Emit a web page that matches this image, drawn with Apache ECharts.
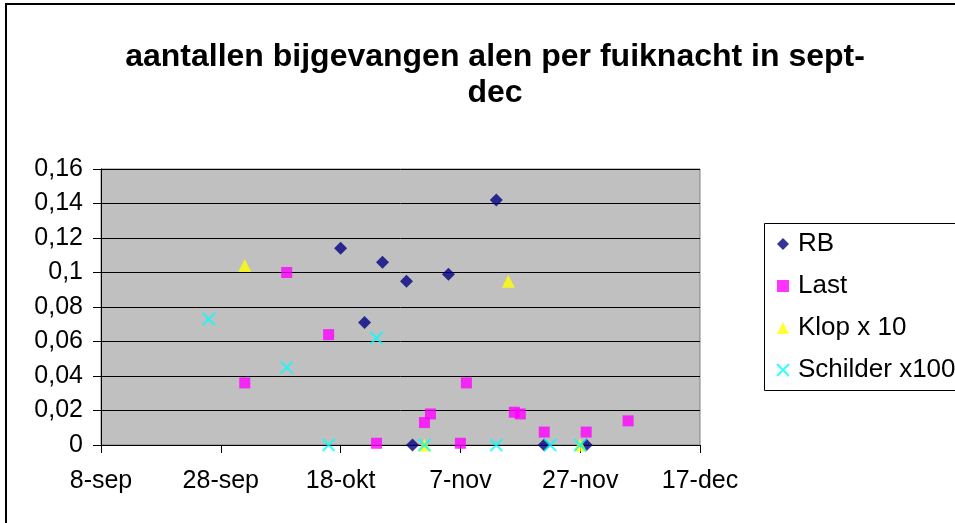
<!DOCTYPE html>
<html>
<head>
<meta charset="utf-8">
<script src="https://cdn.jsdelivr.net/npm/echarts@6/dist/echarts.min.js"></script>
<style>html,body{margin:0;padding:0;background:#fff;}#c{width:955px;height:523px;}</style>
</head>
<body>
<div id="c"></div>
<script>
// ---- data (dates as MM-DD, values per series) ----
const startDate = '09-08';
const xTickLabels = ['8-sep', '28-sep', '18-okt', '7-nov', '27-nov', '17-dec'];
const yTickLabels = ['0', '0,02', '0,04', '0,06', '0,08', '0,1', '0,12', '0,14', '0,16'];

const rbDates = ['10-18', '10-22', '10-25', '10-29', '10-30', '11-05', '11-13', '11-21', '11-28'];
const rbValues = [0.114, 0.071, 0.106, 0.095, 0, 0.099, 0.142, 0, 0];

const lastDates = ['10-02', '10-09', '10-16', '10-24', '11-01', '11-02', '11-07', '11-08', '11-16', '11-17', '11-21', '11-28', '12-05'];
const lastValues = [0.036, 0.1, 0.064, 0.001, 0.013, 0.018, 0.001, 0.036, 0.019, 0.018, 0.0075, 0.0075, 0.014];

const klopDates = ['10-02', '11-01', '11-15', '11-27'];
const klopValues = [0.104, 0, 0.095, 0];

const schilderDates = ['09-26', '10-09', '10-16', '10-24', '11-01', '11-13', '11-22', '11-27'];
const schilderValues = [0.073, 0.045, 0, 0.062, 0, 0, 0, 0];

// ---- helpers ----
function dayNum(md) {
  const [m, d] = md.split('-').map(Number);
  const [m0, d0] = startDate.split('-').map(Number);
  return Math.round((Date.UTC(2007, m - 1, d) - Date.UTC(2007, m0 - 1, d0)) / 86400000);
}
function pts(dates, vals) { return dates.map((d, i) => [dayNum(d), vals[i]]); }

const FONT = '"Liberation Sans", Arial, sans-serif';
const chart = echarts.init(document.getElementById('c'), null, { renderer: 'canvas' });

chart.setOption({
  animation: false,
  backgroundColor: '#ffffff',
  title: {
    text: 'aantallen bijgevangen alen per fuiknacht in sept-\ndec',
    left: 490,
    top: 34,
    textAlign: 'center',
    textStyle: { fontFamily: FONT, fontSize: 32, fontWeight: 'bold', color: '#000', lineHeight: 36 }
  },
  grid: {
    left: 101, top: 169, width: 599, height: 276,
    show: true, backgroundColor: '#C0C0C0', borderColor: '#808080', borderWidth: 1
  },
  legend: {
    orient: 'vertical',
    left: 776, top: 231, padding: 0,
    itemWidth: 12, itemHeight: 12, itemGap: 16,
    textStyle: { fontFamily: FONT, fontSize: 26, color: '#000', padding: [0, 0, 0, 4], lineHeight: 26 },
    data: ['RB', 'Last', 'Klop x 10', 'Schilder x100']
  },
  xAxis: {
    type: 'value', min: 0, max: 100, interval: 20,
    axisLine: { show: true, lineStyle: { color: '#000', width: 1 } },
    axisTick: { show: true, length: 8, lineStyle: { color: '#000' } },
    splitLine: { show: false },
    axisLabel: {
      fontFamily: FONT, fontSize: 25, color: '#000', margin: 24,
      showMinLabel: true, showMaxLabel: true,
      formatter: v => xTickLabels[Math.round(v / 20)] || ''
    }
  },
  yAxis: {
    type: 'value', min: 0, max: 0.16, interval: 0.02,
    axisLine: { show: true, lineStyle: { color: '#000', width: 1 } },
    axisTick: { show: true, length: 8, lineStyle: { color: '#000' } },
    splitLine: { show: true, lineStyle: { color: '#000', width: 1 } },
    axisLabel: {
      fontFamily: FONT, fontSize: 25, color: '#000', margin: 18,
      formatter: v => yTickLabels[Math.round(v / 0.02)] || ''
    }
  },
  series: [
    { name: 'RB', type: 'scatter', symbol: 'diamond', symbolSize: 13,
      itemStyle: { color: '#000080' }, data: pts(rbDates, rbValues) },
    { name: 'Last', type: 'scatter', symbol: 'rect', symbolSize: 11,
      itemStyle: { color: '#FF00FF' }, data: pts(lastDates, lastValues) },
    { name: 'Klop x 10', type: 'scatter', symbol: 'triangle', symbolSize: 13,
      itemStyle: { color: '#FFFF00' }, data: pts(klopDates, klopValues) },
    { name: 'Schilder x100', type: 'scatter', symbol: 'path://M0,0L10,10M0,10L10,0', symbolSize: 12,
      itemStyle: { color: 'rgba(0,0,0,0)', borderColor: '#00FFFF', borderWidth: 2 }, data: pts(schilderDates, schilderValues) }
  ],
  graphic: [
    { type: 'rect', z: 100, silent: true, shape: { x: 6, y: 4, width: 1000, height: 600 },
      style: { fill: 'none', stroke: '#000', lineWidth: 2 } },
    { type: 'rect', z: 100, silent: true, shape: { x: 764.5, y: 223.5, width: 300, height: 167 },
      style: { fill: 'none', stroke: '#000', lineWidth: 1 } }
  ]
});
</script>
</body>
</html>
